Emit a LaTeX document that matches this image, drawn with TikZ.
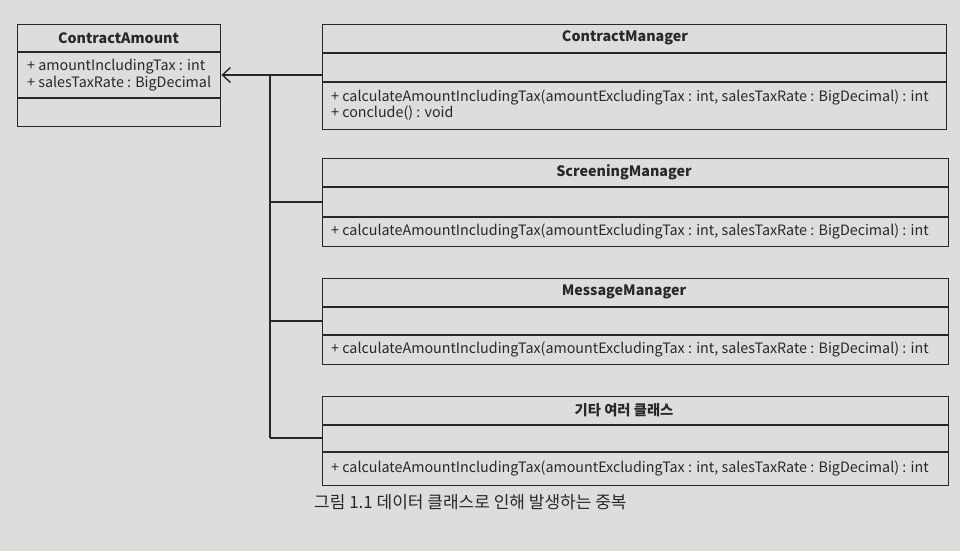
\documentclass[tikz,border=0pt]{standalone}
\usepackage{fontspec}
\setmainfont{Noto Sans CJK KR}
\usetikzlibrary{arrows.meta}
\definecolor{paper}{RGB}{221,221,219}
\definecolor{ink}{RGB}{40,40,40}
\tikzset{
  umlbox/.style={draw=ink, line width=1.4pt, fill=paper, rectangle, anchor=north west, inner sep=0pt},
  sep/.style={draw=ink, line width=1.4pt},
  title/.style={font=\fontsize{14.3}{17}\selectfont\bfseries, text=ink, inner sep=0pt},
  member/.style={font=\fontsize{14.3}{16.5}\selectfont, text=ink, anchor=west, inner sep=0pt, align=left},
  conn/.style={draw=ink, line width=1.4pt},
}
\begin{document}
\begin{tikzpicture}[x=1pt,y=-1pt]
\useasboundingbox (0,0) rectangle (960,551);
\fill[paper] (0,0) rectangle (960,551);

% ContractAmount
\node[umlbox, minimum width=203pt, minimum height=102pt] (ca) at (17,24) {};
\draw[sep] (17,52) -- (220,52);
\draw[sep] (17,98) -- (220,98);
\node[title] (catitle) at (118.5,38) {ContractAmount};
\node[member] (caattr) at (27,75) {+ amountIncludingTax : int\\+ salesTaxRate : BigDecimal};

% ContractManager
\node[umlbox, minimum width=624pt, minimum height=105pt] (cm) at (322,24) {};
\draw[sep] (322,53) -- (946,53);
\draw[sep] (322,82) -- (946,82);
\node[title] (cmtitle) at (625,38) {ContractManager};
\node[member] (cmops) at (331,105) {+ calculateAmountIncludingTax(amountExcludingTax : int, salesTaxRate : BigDecimal) : int\\+ conclude() : void};

% ScreeningManager
\node[umlbox, minimum width=626pt, minimum height=88pt] (sm) at (322,158) {};
\draw[sep] (322,187) -- (948,187);
\draw[sep] (322,217) -- (948,217);
\node[title] (smtitle) at (624,172) {ScreeningManager};
\node[member] (smops) at (331,231.5) {+ calculateAmountIncludingTax(amountExcludingTax : int, salesTaxRate : BigDecimal) : int};

% MessageManager
\node[umlbox, minimum width=626pt, minimum height=86pt] (mm) at (322,278) {};
\draw[sep] (322,307) -- (948,307);
\draw[sep] (322,335) -- (948,335);
\node[title] (mmtitle) at (624,292) {MessageManager};
\node[member] (mmops) at (331,349.5) {+ calculateAmountIncludingTax(amountExcludingTax : int, salesTaxRate : BigDecimal) : int};

% Other classes
\node[umlbox, minimum width=626pt, minimum height=89pt] (oc) at (322,396) {};
\draw[sep] (322,425) -- (948,425);
\draw[sep] (322,452) -- (948,452);
\node[title] (octitle) at (624,410) {기타 여러 클래스};
\node[member] (ocops) at (331,468.5) {+ calculateAmountIncludingTax(amountExcludingTax : int, salesTaxRate : BigDecimal) : int};

% connectors
\coordinate (j0) at (270,75);
\coordinate (j1) at (270,202);
\coordinate (j2) at (270,321);
\coordinate (j3) at (270,438);
\draw[conn, -{Straight Barb[length=8pt,width=15pt]}] (cm.west |- j0) -- (ca.east |- j0);
\draw[conn] (j0) -- (j3);
\draw[conn] (j1) -- (sm.west |- j1);
\draw[conn] (j2) -- (mm.west |- j2);
\draw[conn] (j3) -- (oc.west |- j3);

% caption
\node[font=\fontsize{17}{20}\selectfont, text=ink, anchor=west, inner sep=0pt] (cap) at (314,502) {그림 1.1 데이터 클래스로 인해 발생하는 중복};
\end{tikzpicture}
\end{document}
